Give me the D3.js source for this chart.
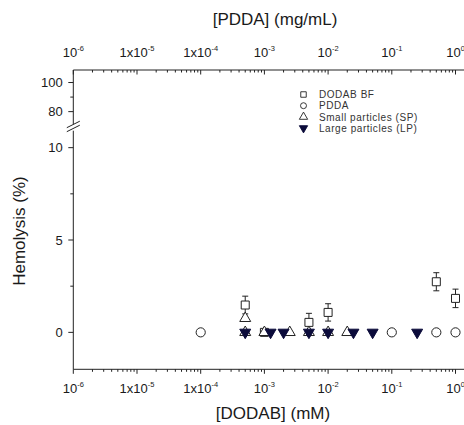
<!DOCTYPE html>
<html>
<head>
<meta charset="utf-8">
<script src="https://cdn.jsdelivr.net/npm/d3@7"></script>
<style>
  html, body { margin: 0; padding: 0; background: #fff; }
  svg { display: block; overflow: hidden; }
  text { font-family: "Liberation Sans", Arial, sans-serif; fill: #1a1a1a; }
</style>
</head>
<body>
<svg id="chart" width="464" height="425"></svg>
<script>
// Hemolysis (%) against concentration, log x axis, broken y axis
const bfX = [5e-4, 1e-3, 5e-3, 1e-2, 0.5, 1];
const bfY = [1.48, 0, 0.54, 1.08, 2.74, 1.84];
const bfErr = [0.48, 0, 0.49, 0.47, 0.49, 0.5];

const pddaX = [1e-4, 0.1, 0.5, 1];
const pddaY = [0, 0, 0, 0];

const spX = [5e-4, 5e-4, 1e-3, 2.5e-3, 5e-3, 1e-2, 2e-2];
const spY = [0.76, 0, 0, 0, 0, 0, 0];

const lpX = [5e-4, 1.25e-3, 2e-3, 5e-3, 1e-2, 2.5e-2, 5e-2, 0.25];
const lpY = [0, 0, 0, 0, 0, 0, 0, 0];

const xTickValues = [1e-6, 1e-5, 1e-4, 1e-3, 1e-2, 1e-1, 1];
const xTickMantissa = ["10", "1x10", "1x10", "10", "10", "10", "10"];
const xTickExponent = ["-6", "-5", "-4", "-3", "-2", "-1", "0"];

const yLowMajor = [0, 5, 10];
const yLowMinor = [2.5, 7.5];
const yHighMajor = [80, 100];
const yHighMinor = [90];

const legendNames = ["DODAB BF", "PDDA", "Small particles (SP)", "Large particles (LP)"];

const svg = d3.select("#chart");
const ink = "#222";
const navy = "#0b0b3a";

const plotLeft = 73.3, plotTop = 70, plotBottom = 369.3;
const decade = 63.7;

const x = d3.scaleLog().domain([1e-6, 2]).range([plotLeft, plotLeft + decade * (6 + Math.log10(2))]);
const yLow = d3.scaleLinear().domain([-2, 11]).range([plotBottom, plotBottom - 13 * 18.47]);
const yHigh = d3.scaleLinear().domain([70, 108.6]).range([126.2, plotTop]);

// minor tick positions on the log axis
const xMinor = [];
for (let e = -6; e <= 0; e++) {
  for (let m = 2; m <= 9; m++) {
    const v = m * Math.pow(10, e);
    if (v <= 2) xMinor.push(v);
  }
}

const g = svg.append("g");

// horizontal axes (bottom and top), ticks hang downwards
function hAxis(yPos) {
  const a = g.append("g");
  a.append("line").attr("x1", plotLeft).attr("x2", 470).attr("y1", yPos).attr("y2", yPos)
    .attr("stroke", ink).attr("stroke-width", 1);
  a.selectAll(".maj").data(xTickValues).enter().append("line")
    .attr("x1", d => x(d)).attr("x2", d => x(d))
    .attr("y1", yPos).attr("y2", yPos + 4.5)
    .attr("stroke", ink).attr("stroke-width", 1);
  a.selectAll(".min").data(xMinor).enter().append("line")
    .attr("x1", d => x(d)).attr("x2", d => x(d))
    .attr("y1", yPos).attr("y2", yPos + 2.5)
    .attr("stroke", ink).attr("stroke-width", 1);
}
hAxis(plotBottom);
hAxis(plotTop);

function xLabels(baseline) {
  const t = g.append("g").selectAll("text").data(xTickValues).enter().append("text")
    .attr("x", d => x(d)).attr("y", baseline)
    .attr("text-anchor", "middle").style("font-size", "13px");
  t.append("tspan").text((d, i) => xTickMantissa[i]);
  t.append("tspan").attr("dy", -6).style("font-size", "7.5px").text((d, i) => xTickExponent[i]);
}
xLabels(393);
xLabels(57);

// left axis with break
const breakLow = yLow(11), breakHigh = yHigh(70);
g.append("line").attr("x1", plotLeft).attr("x2", plotLeft).attr("y1", plotBottom).attr("y2", breakLow + 1.5)
  .attr("stroke", ink);
g.append("line").attr("x1", plotLeft).attr("x2", plotLeft).attr("y1", breakHigh - 2).attr("y2", plotTop)
  .attr("stroke", ink);
[0, -4].forEach(dy => {
  g.append("line")
    .attr("x1", plotLeft - 6.5).attr("y1", (breakLow + breakHigh) / 2 + 4 + dy)
    .attr("x2", plotLeft + 6.5).attr("y2", (breakLow + breakHigh) / 2 - 2.5 + dy)
    .attr("stroke", ink).attr("stroke-width", 1);
});

function yTicks(scale, major, minor) {
  g.append("g").selectAll("line").data(major).enter().append("line")
    .attr("x1", plotLeft - 5).attr("x2", plotLeft).attr("y1", d => scale(d)).attr("y2", d => scale(d))
    .attr("stroke", ink);
  g.append("g").selectAll("line").data(minor).enter().append("line")
    .attr("x1", plotLeft - 3).attr("x2", plotLeft).attr("y1", d => scale(d)).attr("y2", d => scale(d))
    .attr("stroke", ink);
  g.append("g").selectAll("text").data(major).enter().append("text")
    .attr("x", plotLeft - 10.5).attr("y", d => scale(d)).attr("dy", "0.36em")
    .attr("text-anchor", "end").style("font-size", "13px").text(d => d);
}
yTicks(yLow, yLowMajor, yLowMinor);
yTicks(yHigh, yHighMajor, yHighMinor);

// axis titles
g.append("text").attr("x", 275).attr("y", 25).attr("text-anchor", "middle")
  .style("font-size", "17px").text("[PDDA] (mg/mL)");
g.append("text").attr("x", 273).attr("y", 419).attr("text-anchor", "middle")
  .style("font-size", "17px").text("[DODAB] (mM)");
g.append("text").attr("transform", "translate(25,231) rotate(-90)").attr("text-anchor", "middle")
  .style("font-size", "17px").text("Hemolysis (%)");

// data layers
const sq = d3.symbol().type(d3.symbolSquare).size(64);
const circ = d3.symbol().type(d3.symbolCircle).size(66);
const tri = d3.symbol().type(d3.symbolTriangle).size(52);

const bf = bfX.map((v, i) => ({ x: v, y: bfY[i], e: bfErr[i] }));
const errG = g.append("g");
bf.filter(d => d.e > 0).forEach(d => {
  const x0 = x(d.x), y1 = yLow(d.y + d.e), y2 = yLow(d.y - d.e);
  errG.append("line").attr("x1", x0).attr("x2", x0).attr("y1", y1).attr("y2", y2).attr("stroke", ink);
  [y1, y2].forEach(yy => errG.append("line").attr("x1", x0 - 3).attr("x2", x0 + 3)
    .attr("y1", yy).attr("y2", yy).attr("stroke", ink));
});

g.append("g").selectAll("path").data(bf).enter().append("path")
  .attr("d", sq).attr("transform", d => `translate(${x(d.x)},${yLow(d.y)})`)
  .attr("fill", "#fff").attr("stroke", ink).attr("stroke-width", 1);

g.append("g").selectAll("path").data(pddaX.map((v, i) => ({ x: v, y: pddaY[i] }))).enter().append("path")
  .attr("d", circ).attr("transform", d => `translate(${x(d.x)},${yLow(d.y)})`)
  .attr("fill", "#fff").attr("stroke", ink).attr("stroke-width", 1);

g.append("g").selectAll("path").data(spX.map((v, i) => ({ x: v, y: spY[i] }))).enter().append("path")
  .attr("d", tri).attr("transform", d => `translate(${x(d.x)},${yLow(d.y)})`)
  .attr("fill", "#fff").attr("stroke", ink).attr("stroke-width", 1);

g.append("g").selectAll("path").data(lpX.map((v, i) => ({ x: v, y: lpY[i] }))).enter().append("path")
  .attr("d", tri).attr("transform", d => `translate(${x(d.x)},${yLow(d.y)}) rotate(180)`)
  .attr("fill", navy).attr("stroke", navy).attr("stroke-width", 1);

// legend
const legendSymbols = [
  { d: d3.symbol().type(d3.symbolSquare).size(30)(), fill: "#fff", stroke: ink, rot: 0 },
  { d: d3.symbol().type(d3.symbolCircle).size(28)(), fill: "#fff", stroke: ink, rot: 0 },
  { d: d3.symbol().type(d3.symbolTriangle).size(30)(), fill: "#fff", stroke: ink, rot: 0 },
  { d: d3.symbol().type(d3.symbolTriangle).size(30)(), fill: navy, stroke: navy, rot: 180 }
];
const lg = g.append("g").selectAll("g").data(legendNames).enter().append("g")
  .attr("transform", (d, i) => `translate(303.5,${94.5 + i * 11.2})`);
lg.append("path").attr("d", (d, i) => legendSymbols[i].d)
  .attr("transform", (d, i) => `rotate(${legendSymbols[i].rot})`)
  .attr("fill", (d, i) => legendSymbols[i].fill)
  .attr("stroke", (d, i) => legendSymbols[i].stroke).attr("stroke-width", 0.9);
lg.append("text").attr("x", 15.5).attr("dy", "0.36em").style("font-size", "10px")
  .style("letter-spacing", "0.55px").style("fill", "#333").text(d => d);
</script>
</body>
</html>
